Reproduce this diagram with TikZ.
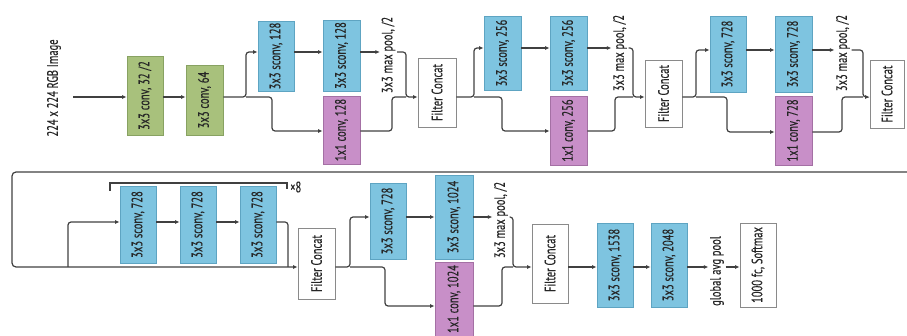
\documentclass[tikz,border=0pt]{standalone}
\usepackage{fontspec}
\setmainfont{PT Sans}[FakeStretch=0.7,FakeBold=0.35]
\usetikzlibrary{arrows.meta,calc}
\definecolor{gfill}{HTML}{A8C17C}\definecolor{gdraw}{HTML}{88A262}
\definecolor{bfill}{HTML}{7EC4E0}\definecolor{bdraw}{HTML}{5EA4C2}
\definecolor{pfill}{HTML}{C88FC8}\definecolor{pdraw}{HTML}{A470A4}
\definecolor{txt}{HTML}{262626}\definecolor{lncol}{HTML}{404040}
\definecolor{wdraw}{HTML}{8A8A8A}
\tikzset{
 box/.style={rectangle, inner sep=0pt, text=txt, font=\fontsize{15}{15}\selectfont, line width=0.8pt},
 gbox/.style={box, fill=gfill, draw=gdraw},
 bbox/.style={box, fill=bfill, draw=bdraw},
 pbox/.style={box, fill=pfill, draw=pdraw},
 wbox/.style={box, fill=white, draw=wdraw},
 lbl/.style={inner sep=1.5pt, text=txt, font=\fontsize{15}{15}\selectfont},
 conn/.style={draw=lncol, line width=1.2pt, rounded corners=3pt},
 arr/.style={conn, -{Latex[length=4.5pt,width=4pt]}},
}
\newcommand{\rt}[1]{\rotatebox{90}{#1}}
\begin{document}
\begin{tikzpicture}[x=1pt,y=-1pt]
\useasboundingbox (0,0) rectangle (907,336);
% row coordinates
\coordinate (r1) at (0,97); \coordinate (t1) at (0,52); \coordinate (t2) at (0,48);
\coordinate (t3) at (0,50); \coordinate (q1) at (0,131); \coordinate (q3) at (0,132);
\coordinate (r2) at (0,267); \coordinate (t4) at (0,222); \coordinate (t5) at (0,217);
\coordinate (q2) at (0,306);
% ---------- row 1 ----------
\node[lbl] (img) at (54,88) {\rt{224 x 224 RGB Image}};
\coordinate (in) at (73,97);
\node[gbox, minimum width=36pt, minimum height=79pt] (g1) at (145,95.5) {\rt{3x3 conv, 32 /2}};
\node[gbox, minimum width=37pt, minimum height=70pt] (g2) at (204.5,100) {\rt{3x3 conv, 64}};
\node[bbox, minimum width=36pt, minimum height=70pt] (b128a) at (276,56) {\rt{3x3 sconv, 128}};
\node[bbox, minimum width=37pt, minimum height=71pt] (b128b) at (341.5,55.5) {\rt{3x3 sconv, 128}};
\node[pbox, minimum width=37pt, minimum height=68pt] (p128) at (341.5,130) {\rt{1x1 conv, 128}};
\node[lbl] (mp1) at (388.5,55) {\rt{3x3 max pool, /2}};
\node[wbox, minimum width=38pt, minimum height=69pt] (fc1) at (437,92.5) {\rt{Filter Concat}};
\node[bbox, minimum width=37pt, minimum height=74pt] (b256a) at (502.5,53) {\rt{3x3 sconv, 256}};
\node[bbox, minimum width=37pt, minimum height=74pt] (b256b) at (568.5,53) {\rt{3x3 sconv, 256}};
\node[pbox, minimum width=37pt, minimum height=69pt] (p256) at (568.5,130.5) {\rt{1x1 conv, 256}};
\node[lbl] (mp2) at (620,53) {\rt{3x3 max pool, /2}};
\node[wbox, minimum width=37pt, minimum height=67pt] (fc2) at (663.5,93.5) {\rt{Filter Concat}};
\node[bbox, minimum width=36pt, minimum height=76pt] (b728a) at (728,54) {\rt{3x3 sconv, 728}};
\node[bbox, minimum width=37pt, minimum height=76pt] (b728b) at (793.5,54) {\rt{3x3 sconv, 728}};
\node[pbox, minimum width=37pt, minimum height=69pt] (p728) at (793.5,130.5) {\rt{1x1 conv, 728}};
\node[lbl] (mp3) at (843,53) {\rt{3x3 max pool, /2}};
\node[wbox, minimum width=34pt, minimum height=68pt] (fc3) at (887,94) {\rt{Filter Concat}};
% junction x positions
\coordinate (a1) at (246,0); \coordinate (a2) at (272,0); \coordinate (a3) at (406,0); \coordinate (a4) at (392,0);
\coordinate (a5) at (474,0); \coordinate (a6) at (502,0); \coordinate (a7) at (633,0); \coordinate (a8) at (615,0);
\coordinate (a9) at (696,0); \coordinate (a10) at (727,0); \coordinate (a11) at (863,0); \coordinate (a12) at (842,0);
% block 1
\draw[arr] (in) -- (g1.west|-r1);
\draw[arr] (g1.east|-r1) -- (g2.west|-r1);
\draw[arr] (g2.east|-r1) -- (a1|-r1) -- (a1|-t1) -- (b128a.west|-t1);
\draw[arr] (a1|-r1) -- (a2|-r1) -- (a2|-q1) -- (p128.west|-q1);
\draw[arr] (b128a.east|-t1) -- (b128b.west|-t1);
\draw[arr] (b128b.east|-t1) -- (mp1.west|-t1);
\draw[arr] (mp1.east|-t1) -- (a3|-t1) -- (a3|-r1) -- (fc1.west|-r1);
\draw[conn] (p128.east|-q1) -- (a4|-q1) -- (a4|-r1) -- (a3|-r1);
% block 2
\draw[arr] (fc1.east|-r1) -- (a5|-r1) -- (a5|-t2) -- (b256a.west|-t2);
\draw[arr] (a5|-r1) -- (a6|-r1) -- (a6|-q1) -- (p256.west|-q1);
\draw[arr] (b256a.east|-t2) -- (b256b.west|-t2);
\draw[arr] (b256b.east|-t2) -- (mp2.west|-t2);
\draw[arr] (mp2.east|-t2) -- (a7|-t2) -- (a7|-r1) -- (fc2.west|-r1);
\draw[conn] (p256.east|-q1) -- (a8|-q1) -- (a8|-r1) -- (a7|-r1);
% block 3
\draw[arr] (fc2.east|-r1) -- (a9|-r1) -- (a9|-t3) -- (b728a.west|-t3);
\draw[arr] (a9|-r1) -- (a10|-r1) -- (a10|-q3) -- (p728.west|-q3);
\draw[arr] (b728a.east|-t3) -- (b728b.west|-t3);
\draw[arr] (b728b.east|-t3) -- (mp3.west|-t3);
\draw[arr] (mp3.east|-t3) -- (a11|-t3) -- (a11|-r1) -- (fc3.west|-r1);
\draw[conn] (p728.east|-q3) -- (a12|-q3) -- (a12|-r1) -- (a11|-r1);
% ---------- row 2 ----------
\node[bbox, minimum width=36pt, minimum height=77pt] (m1) at (138,224.5) {\rt{3x3 sconv, 728}};
\node[bbox, minimum width=36pt, minimum height=77pt] (m2) at (198,224.5) {\rt{3x3 sconv, 728}};
\node[bbox, minimum width=36pt, minimum height=77pt] (m3) at (258,224.5) {\rt{3x3 sconv, 728}};
\node[wbox, minimum width=37pt, minimum height=71pt] (fc4) at (316.5,263.5) {\rt{Filter Concat}};
\node[bbox, minimum width=36pt, minimum height=76pt] (b728d) at (388,221) {\rt{3x3 sconv, 728}};
\node[bbox, minimum width=38pt, minimum height=84pt] (b1024) at (454,217) {\rt{3x3 sconv, 1024}};
\node[pbox, minimum width=38pt, minimum height=74pt] (p1024) at (454,299) {\rt{1x1 conv, 1024}};
\node[lbl] (mp4) at (501,220) {\rt{3x3 max pool, /2}};
\node[wbox, minimum width=36pt, minimum height=79pt] (fc5) at (550,263.5) {\rt{Filter Concat}};
\node[bbox, minimum width=36pt, minimum height=84pt] (b1538) at (615,265) {\rt{3x3 sconv, 1538}};
\node[bbox, minimum width=36pt, minimum height=84pt] (b2048) at (669,265) {\rt{3x3 sconv, 2048}};
\node[lbl] (gap) at (717,271) {\rt{global avg pool}};
\node[wbox, minimum width=36pt, minimum height=84pt] (sm) at (758,265) {\rt{1000 fc, Softmax}};
\coordinate (edge) at (907,172);
\coordinate (a13) at (12,0); \coordinate (a14) at (68,0); \coordinate (a15) at (288,0);
\coordinate (a16) at (350,0); \coordinate (a17) at (385,0); \coordinate (a18) at (513,0); \coordinate (a19) at (502,0);
\draw[arr,rounded corners=4pt] (edge) -- (a13|-edge) -- (a13|-r2) -- (fc4.west|-r2);
\draw[arr] (a14|-r2) -- (a14|-t4) -- (m1.west|-t4);
\draw[arr] (m1.east|-t4) -- (m2.west|-t4);
\draw[arr] (m2.east|-t4) -- (m3.west|-t4);
\draw[conn] (m3.east|-t4) -- (a15|-t4) -- (a15|-r2);
% repeat bracket
\coordinate (k1) at (110,183); \coordinate (k2) at (287,183);
\draw[draw=lncol, line width=1.2pt] ([yshift=-8pt]k1) -- (k1) -- (k2) -- ([yshift=-6pt]k2);
\node[lbl, anchor=west, inner sep=1pt] (x8) at (289,187) {×8};
\draw[arr] (fc4.east|-r2) -- (a16|-r2) -- (a16|-t5) -- (b728d.west|-t5);
\draw[arr] (a16|-r2) -- (a17|-r2) -- (a17|-q2) -- (p1024.west|-q2);
\draw[arr] (b728d.east|-t5) -- (b1024.west|-t5);
\draw[arr] (b1024.east|-t5) -- (mp4.west|-t5);
\draw[arr] (mp4.east|-t5) -- (a18|-t5) -- (a18|-r2) -- (fc5.west|-r2);
\draw[conn] (p1024.east|-q2) -- (a19|-q2) -- (a19|-r2) -- (a18|-r2);
\draw[arr] (fc5.east|-r2) -- (b1538.west|-r2);
\draw[arr] (b1538.east|-r2) -- (b2048.west|-r2);
\draw[arr] (b2048.east|-r2) -- (gap.west|-r2);
\draw[arr] (gap.east|-r2) -- (sm.west|-r2);
\end{tikzpicture}
\end{document}
